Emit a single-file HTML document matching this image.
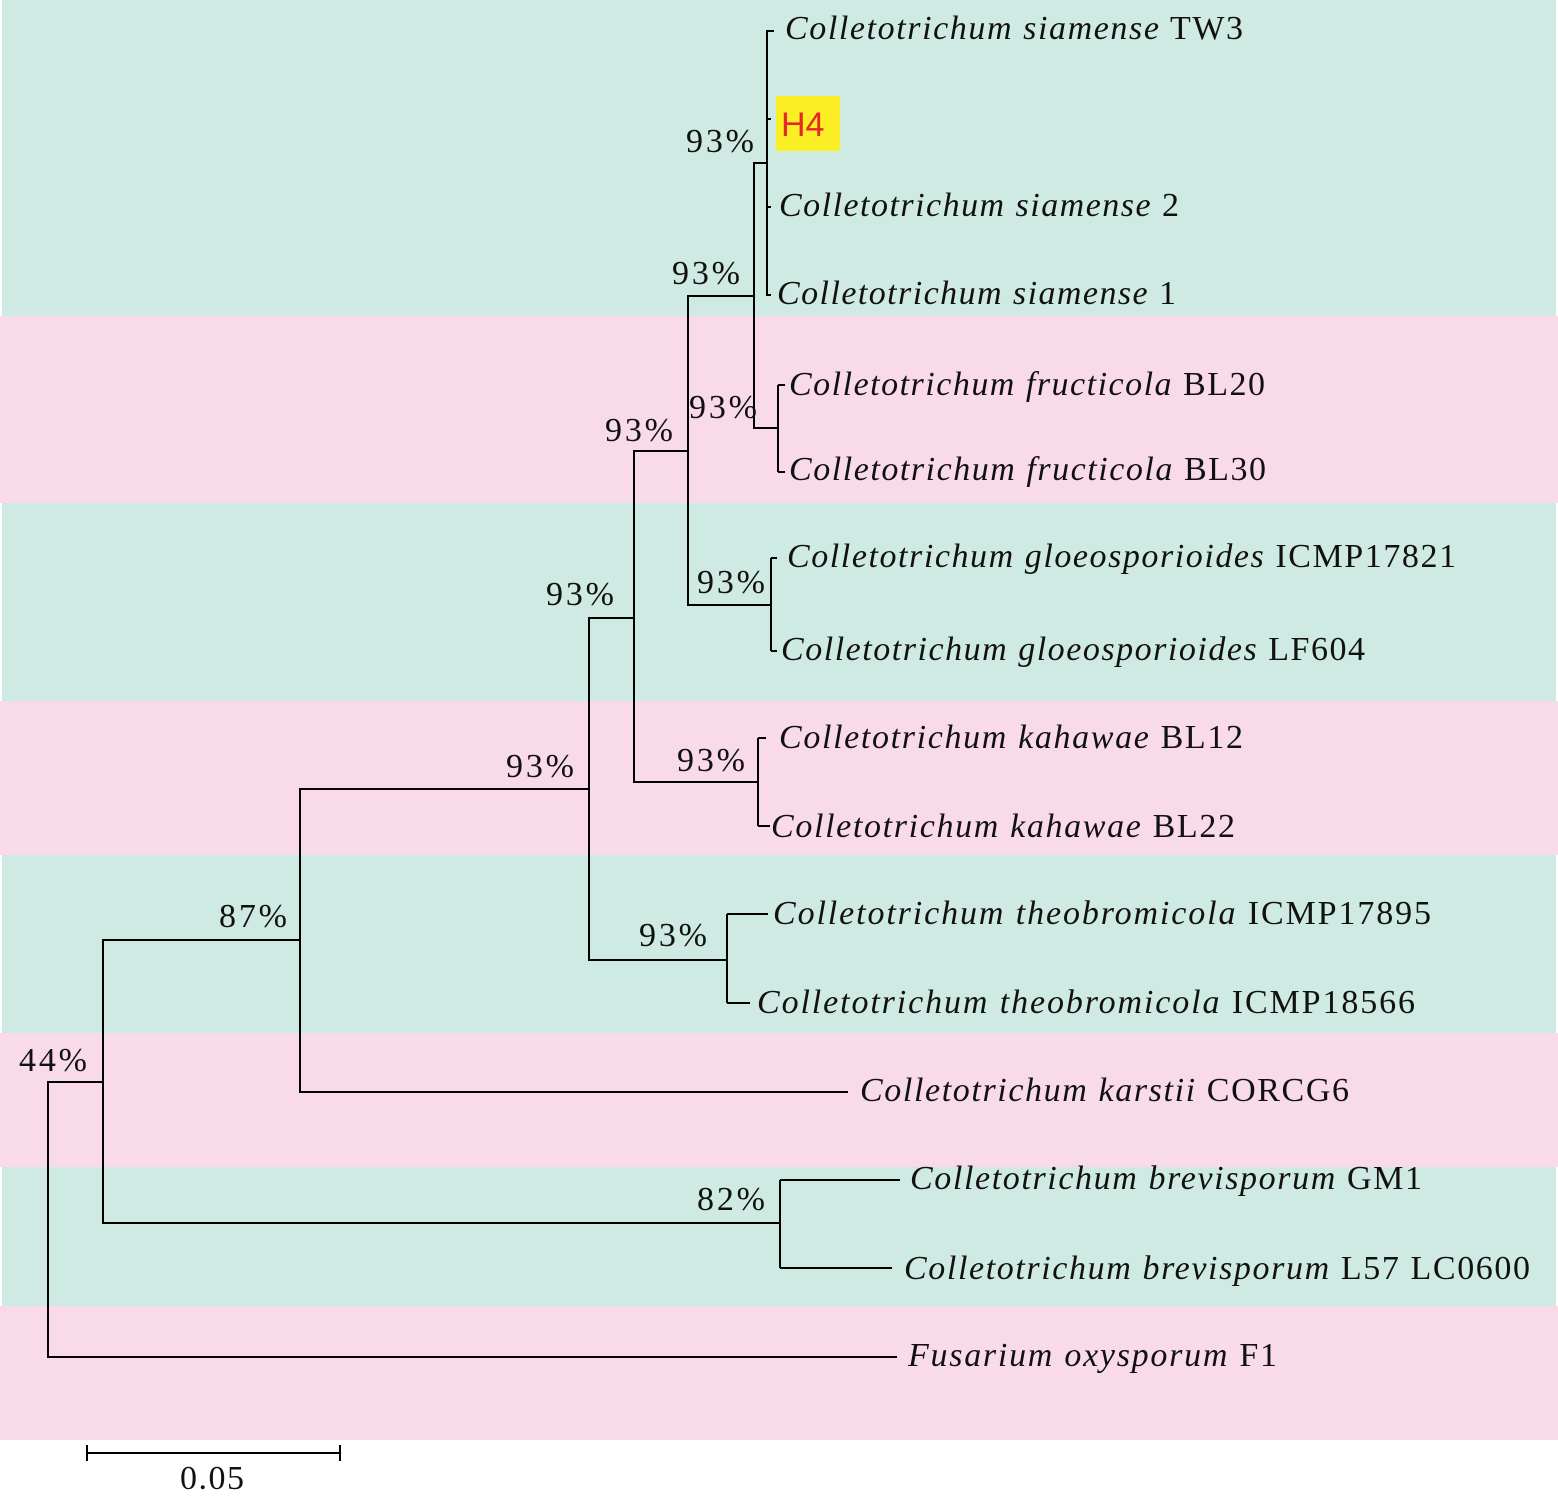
<!DOCTYPE html>
<html><head><meta charset="utf-8"><style>html,body{margin:0;padding:0;background:#fff}svg{display:block}svg text{font-family:"Liberation Serif","Times New Roman",serif}svg text.h4{font-family:"Liberation Sans",sans-serif}</style></head>
<body>
<svg width="1558" height="1502" viewBox="0 0 1558 1502" xmlns="http://www.w3.org/2000/svg" font-size="34">
<rect x="2" y="0" width="1554" height="316" fill="#cfe9e3"/>
<rect x="0" y="316" width="1558" height="187" fill="#f9dae8"/>
<rect x="2" y="503" width="1554" height="198" fill="#cfe9e3"/>
<rect x="0" y="701" width="1558" height="154" fill="#f9dae8"/>
<rect x="2" y="855" width="1554" height="178" fill="#cfe9e3"/>
<rect x="0" y="1033" width="1558" height="134" fill="#f9dae8"/>
<rect x="2" y="1167" width="1554" height="139" fill="#cfe9e3"/>
<rect x="0" y="1306" width="1558" height="134" fill="#f9dae8"/>
<g stroke="#000" stroke-width="2" fill="none">
<path d="M774 31H767V295H771M767 119H771M767 207H771"/>
<path d="M767 163H754V428H778M778 385V472M778 385H785M778 472H785"/>
<path d="M754 296H688V605H771M771 558V651M771 558H777M771 651H777"/>
<path d="M688 451H634V782H758M758 738V826M758 738H766M758 826H770"/>
<path d="M634 618H589V960H727M727 914V1003M727 914H768M727 1003H750"/>
<path d="M589 789H300V1092H848"/>
<path d="M300 940H103V1223H780M780 1180V1268M780 1180H900M780 1268H892"/>
<path d="M103 1082H48V1357H897"/>
<path d="M87 1453H340M87 1445V1461M340 1445V1461"/>
</g>
<rect x="776" y="96" width="64" height="55" fill="#fbee23"/>
<text class="h4" x="781" y="136" font-size="34" fill="#e8262a">H4</text>
<g fill="#111">
<text x="785" y="39" textLength="458"><tspan font-style="italic">Colletotrichum siamense</tspan> TW3</text>
<text x="779" y="216" textLength="400"><tspan font-style="italic">Colletotrichum siamense</tspan> 2</text>
<text x="777" y="304" textLength="399"><tspan font-style="italic">Colletotrichum siamense</tspan> 1</text>
<text x="789" y="395" textLength="476"><tspan font-style="italic">Colletotrichum fructicola</tspan> BL20</text>
<text x="789" y="480" textLength="477"><tspan font-style="italic">Colletotrichum fructicola</tspan> BL30</text>
<text x="787" y="567" textLength="669"><tspan font-style="italic">Colletotrichum gloeosporioides</tspan> ICMP17821</text>
<text x="781" y="660" textLength="584"><tspan font-style="italic">Colletotrichum gloeosporioides</tspan> LF604</text>
<text x="779" y="748" textLength="464"><tspan font-style="italic">Colletotrichum kahawae</tspan> BL12</text>
<text x="771" y="837" textLength="464"><tspan font-style="italic">Colletotrichum kahawae</tspan> BL22</text>
<text x="773" y="924" textLength="658"><tspan font-style="italic">Colletotrichum theobromicola</tspan>   ICMP17895</text>
<text x="757" y="1013" textLength="658"><tspan font-style="italic">Colletotrichum theobromicola</tspan>   ICMP18566</text>
<text x="860" y="1101" textLength="489"><tspan font-style="italic">Colletotrichum karstii</tspan> CORCG6</text>
<text x="910" y="1189" textLength="512"><tspan font-style="italic">Colletotrichum brevisporum</tspan> GM1</text>
<text x="904" y="1279" textLength="626"><tspan font-style="italic">Colletotrichum brevisporum</tspan> L57 LC0600</text>
<text x="908" y="1366" textLength="369"><tspan font-style="italic">Fusarium oxysporum</tspan> F1</text>
<text x="686" y="152" textLength="68">93%</text>
<text x="672" y="284" textLength="68">93%</text>
<text x="689" y="418" textLength="68">93%</text>
<text x="605" y="441" textLength="68">93%</text>
<text x="697" y="593" textLength="68">93%</text>
<text x="546" y="605" textLength="68">93%</text>
<text x="677" y="771" textLength="68">93%</text>
<text x="506" y="777" textLength="68">93%</text>
<text x="639" y="946" textLength="68">93%</text>
<text x="219" y="927" textLength="68">87%</text>
<text x="19" y="1071" textLength="68">44%</text>
<text x="697" y="1210" textLength="68">82%</text>
<text x="180" y="1489" textLength="64">0.05</text>
</g>
</svg>
</body></html>
